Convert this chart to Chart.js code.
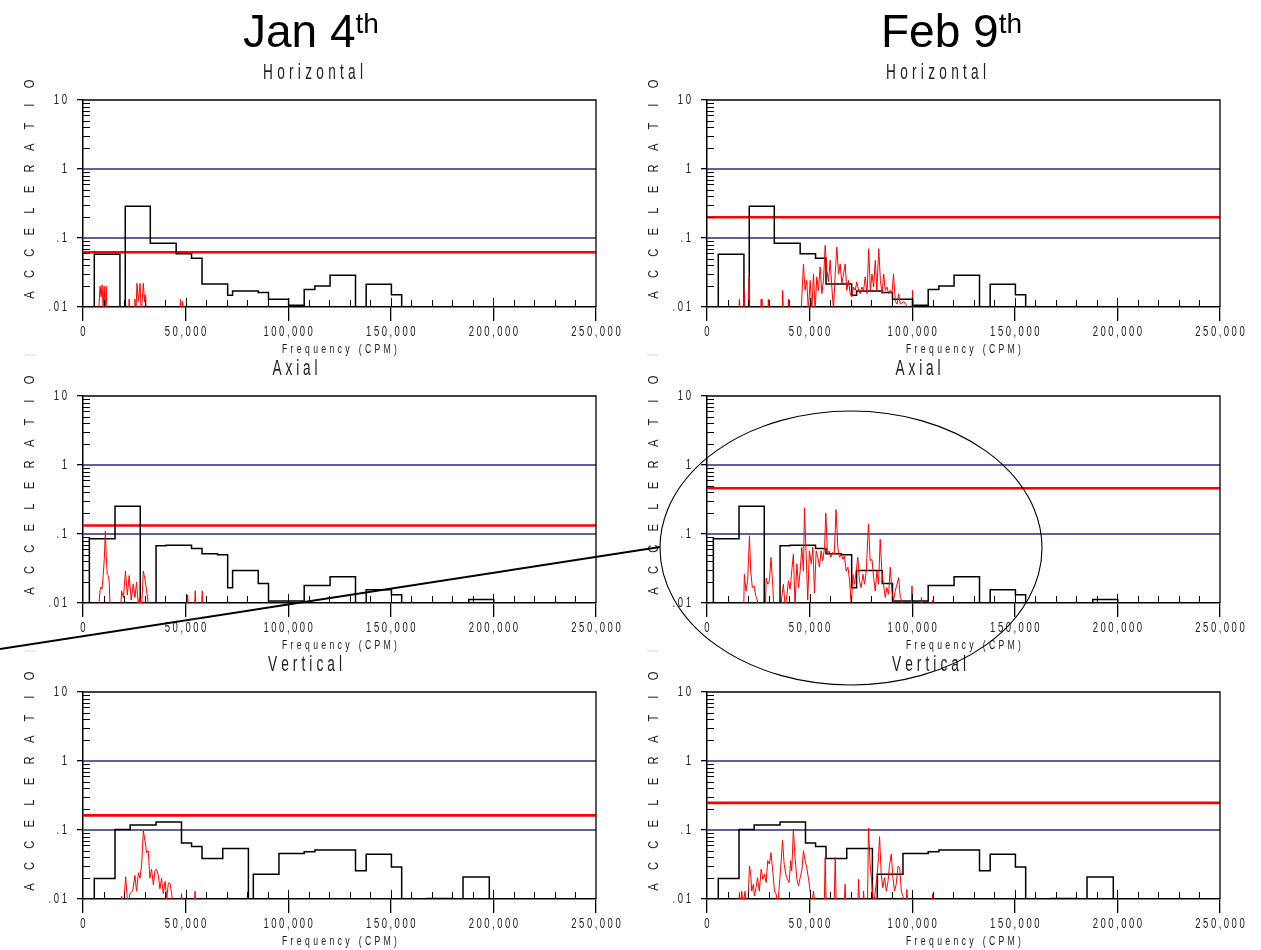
<!DOCTYPE html>
<html>
<head>
<meta charset="utf-8">
<script src="https://cdn.jsdelivr.net/npm/chart.js@4.4.1/dist/chart.umd.min.js"></script>
<style>
  html, body { margin: 0; padding: 0; background: #fff; }
  #page { position: relative; width: 1261px; height: 950px; overflow: hidden; }
  .panel { position: absolute; }
  #overlay { position: absolute; left: 0; top: 0; pointer-events: none; }
</style>
</head>
<body>
<div id="page">
  <canvas id="janH" class="panel" width="636" height="296" style="left:0;top:60px"></canvas>
  <canvas id="febH" class="panel" width="636" height="296" style="left:624px;top:60px"></canvas>
  <canvas id="janA" class="panel" width="636" height="296" style="left:0;top:356px"></canvas>
  <canvas id="febA" class="panel" width="636" height="296" style="left:624px;top:356px"></canvas>
  <canvas id="janV" class="panel" width="636" height="296" style="left:0;top:652px"></canvas>
  <canvas id="febV" class="panel" width="636" height="296" style="left:624px;top:652px"></canvas>
  <svg id="overlay" width="1261" height="950">
    <text x="243" y="47" font-family="Liberation Sans, Arial, sans-serif" font-size="46" fill="#000">Jan 4<tspan font-size="28" dy="-14">th</tspan></text>
    <text x="881" y="47" font-family="Liberation Sans, Arial, sans-serif" font-size="46" fill="#000">Feb 9<tspan font-size="28" dy="-14">th</tspan></text>
    <ellipse cx="851" cy="548" rx="191" ry="137" fill="none" stroke="#000" stroke-width="1.1"/>
    <line x1="0" y1="649" x2="660" y2="547" stroke="#000" stroke-width="2"/>
    <g stroke="#e4e4e4" stroke-width="1.5">
      <line x1="25" y1="355" x2="36" y2="355"/>
      <line x1="647" y1="355" x2="658" y2="355"/>
      <line x1="25" y1="651" x2="36" y2="651"/>
      <line x1="647" y1="651" x2="658" y2="651"/>
    </g>
  </svg>
</div>
<script>
// axis ticks
const xTicks = [0, 50000, 100000, 150000, 200000, 250000];
const yTicks = [0.01, 0.1, 1, 10];
const alarmLevels = [1, 0.1];

// overall levels (Horizontal, Axial, Vertical)
const overallJan = [0.062, 0.133, 0.163];
const overallFeb = [0.20, 0.46, 0.247];

// band envelopes (same on both dates)
const hEnvFreq = [5500, 5500, 18000, 20600, 32800, 45400, 52900, 58000, 70500, 72900, 85400, 90400, 100200, 107800, 113000, 120400, 132800, 138000, 150300, 155300];
const hEnvAmp = [0.005, 0.058, 0.005, 0.288, 0.084, 0.059, 0.051, 0.0215, 0.0148, 0.0171, 0.0162, 0.0129, 0.0106, 0.018, 0.0201, 0.0288, 0.005, 0.0213, 0.0151, 0.005];
const aEnvFreq = [3100, 3100, 15600, 27900, 35600, 40400, 52900, 58000, 65500, 70500, 72900, 85400, 90400, 107800, 120400, 132800, 138000, 150300, 155300, 188000, 200200];
const aEnvAmp = [0.005, 0.0856, 0.252, 0.005, 0.0676, 0.0689, 0.0617, 0.0517, 0.050, 0.0167, 0.0295, 0.0191, 0.0107, 0.018, 0.0241, 0.005, 0.0156, 0.0132, 0.005, 0.0112, 0.005];
const vEnvFreq = [5500, 5500, 15600, 23000, 35600, 48000, 52900, 58000, 68100, 80600, 83000, 95500, 107800, 113000, 132800, 138000, 150300, 155300, 167800, 180300, 185200, 198000];
const vEnvAmp = [0.005, 0.0198, 0.102, 0.118, 0.131, 0.0647, 0.0578, 0.0386, 0.054, 0.005, 0.0229, 0.0457, 0.0483, 0.0512, 0.0256, 0.0447, 0.0292, 0.005, 0.0102, 0.005, 0.0209, 0.005];

// spectra, Jan 4th
const janHFreq = [0, 7600, 8300, 8800, 9300, 9800, 10300, 10800, 11300, 11800, 22000, 22500, 23000, 25000, 25300, 25800, 26300, 27000, 27800, 28400, 29400, 30000, 30500, 31000, 47000, 47500, 48000, 48500, 49500, 50500, 51000, 250000];
const janHAmp = [0.005, 0.008, 0.02, 0.014, 0.021, 0.01, 0.02, 0.009, 0.02, 0.006, 0.006, 0.013, 0.006, 0.006, 0.013, 0.008, 0.022, 0.012, 0.022, 0.008, 0.022, 0.012, 0.015, 0.006, 0.006, 0.013, 0.008, 0.012, 0.007, 0.011, 0.006, 0.005];
const janAFreq = [0, 7500, 8300, 8800, 9300, 9900, 10400, 10900, 11300, 11800, 12300, 12800, 13300, 18300, 18800, 19700, 20700, 21600, 22500, 23500, 24500, 25300, 26100, 26900, 27700, 28500, 29400, 30200, 31000, 31800, 32300, 50500, 51000, 51500, 54200, 54700, 55200, 57600, 58100, 58600, 250000];
const janAAmp = [0.005, 0.008, 0.015, 0.017, 0.016, 0.026, 0.045, 0.11, 0.05, 0.026, 0.025, 0.02, 0.006, 0.007, 0.015, 0.012, 0.029, 0.013, 0.025, 0.011, 0.019, 0.012, 0.02, 0.01, 0.012, 0.008, 0.029, 0.022, 0.015, 0.01, 0.007, 0.007, 0.013, 0.007, 0.007, 0.015, 0.007, 0.007, 0.015, 0.007, 0.005];
const janVFreq = [0, 18300, 18800, 19800, 20800, 21800, 22900, 24200, 25300, 26100, 27000, 27800, 28600, 29400, 30200, 31000, 31800, 32600, 33400, 34300, 35100, 35900, 36700, 37500, 38300, 39100, 40000, 40800, 41600, 42400, 43200, 44000, 47500, 48000, 48500, 54100, 54600, 55100, 250000];
const janVAmp = [0.005, 0.007, 0.011, 0.008, 0.021, 0.008, 0.012, 0.013, 0.022, 0.013, 0.024, 0.02, 0.032, 0.098, 0.07, 0.047, 0.05, 0.02, 0.027, 0.016, 0.026, 0.027, 0.022, 0.014, 0.02, 0.012, 0.018, 0.01, 0.017, 0.017, 0.012, 0.007, 0.007, 0.012, 0.007, 0.007, 0.013, 0.007, 0.005];

// spectra, Feb 9th
const febHFreq = [0, 15300, 15800, 16300, 17600, 18100, 18600, 19000, 20000, 20500, 21000, 26000, 26400, 26800, 29500, 29900, 30300, 36500, 36900, 37400, 39300, 39700, 40100, 45800, 46200, 47000, 47800, 48600, 49400, 50300, 51100, 51900, 52700, 53500, 54300, 55150, 55960, 56770, 57590, 58400, 59200, 60020, 60830, 61650, 62460, 63270, 64090, 64900, 65710, 66530, 67340, 68150, 68970, 69780, 70600, 71400, 72200, 73000, 73900, 74700, 75500, 76300, 77100, 78000, 78800, 79600, 80400, 81200, 82000, 82800, 83700, 84500, 85300, 86100, 86900, 87700, 88500, 89300, 90100, 90900, 91800, 92600, 93400, 94200, 95800, 99100, 99700, 100200, 100700, 250000];
const febHAmp = [0.005, 0.006, 0.013, 0.006, 0.006, 0.0174, 0.008, 0.006, 0.007, 0.028, 0.006, 0.006, 0.013, 0.006, 0.006, 0.013, 0.006, 0.006, 0.0174, 0.006, 0.006, 0.013, 0.006, 0.006, 0.014, 0.0416, 0.0174, 0.0243, 0.009, 0.0243, 0.009, 0.03, 0.009, 0.0273, 0.0174, 0.038, 0.0156, 0.0243, 0.078, 0.034, 0.023, 0.0475, 0.0195, 0.009, 0.03, 0.074, 0.03, 0.042, 0.0218, 0.03, 0.042, 0.0174, 0.0243, 0.0156, 0.014, 0.0195, 0.0174, 0.023, 0.0174, 0.0156, 0.0195, 0.0174, 0.0273, 0.0156, 0.07, 0.0174, 0.03, 0.0195, 0.0475, 0.0174, 0.07, 0.0243, 0.0156, 0.03, 0.0174, 0.0195, 0.0156, 0.0174, 0.0156, 0.03, 0.012, 0.011, 0.0156, 0.011, 0.012, 0.009, 0.006, 0.0174, 0.006, 0.005];
const febAFreq = [0, 17800, 18200, 19000, 19800, 20700, 21300, 22100, 22900, 23700, 24600, 25000, 28400, 28800, 29600, 30400, 31200, 32100, 32900, 35900, 36400, 37200, 38100, 38900, 39700, 40500, 41300, 42100, 42900, 43800, 44600, 45400, 46200, 47000, 47500, 48300, 49100, 49900, 50800, 51600, 52400, 53200, 54000, 54800, 55600, 56400, 57300, 57900, 58700, 59500, 60300, 61200, 62000, 62900, 63800, 64600, 65400, 66200, 67000, 67800, 68700, 69500, 70300, 71100, 71900, 72700, 73500, 74300, 75100, 76000, 76800, 77600, 78700, 79500, 80400, 81200, 82000, 82800, 83600, 84400, 85200, 86000, 86900, 87700, 88500, 89300, 90100, 90900, 91700, 92600, 93400, 94200, 95000, 95800, 99400, 99900, 100400, 104000, 104500, 105000, 109500, 110000, 110500, 250000];
const febAAmp = [0.005, 0.006, 0.026, 0.0149, 0.021, 0.094, 0.029, 0.0167, 0.0177, 0.013, 0.0107, 0.006, 0.006, 0.023, 0.0187, 0.021, 0.0457, 0.0167, 0.006, 0.006, 0.012, 0.0187, 0.009, 0.0126, 0.021, 0.0158, 0.029, 0.051, 0.009, 0.037, 0.0167, 0.029, 0.064, 0.029, 0.239, 0.051, 0.011, 0.057, 0.037, 0.064, 0.014, 0.057, 0.046, 0.033, 0.057, 0.041, 0.064, 0.20, 0.051, 0.057, 0.046, 0.054, 0.051, 0.226, 0.061, 0.046, 0.051, 0.043, 0.048, 0.029, 0.033, 0.021, 0.009, 0.026, 0.0187, 0.029, 0.046, 0.021, 0.0167, 0.026, 0.0187, 0.029, 0.14, 0.041, 0.043, 0.0234, 0.0149, 0.029, 0.0187, 0.084, 0.029, 0.0187, 0.012, 0.0167, 0.0134, 0.033, 0.0149, 0.0107, 0.0149, 0.0187, 0.0234, 0.012, 0.0107, 0.007, 0.007, 0.0177, 0.007, 0.007, 0.012, 0.007, 0.007, 0.011, 0.007, 0.005];
const febVFreq = [0, 15300, 15800, 16400, 16900, 17700, 18500, 19400, 20000, 20700, 21300, 21800, 22600, 23100, 23900, 24600, 25500, 26400, 27200, 28000, 28800, 29600, 30400, 31200, 32100, 32900, 33700, 34500, 35300, 36100, 36800, 37600, 38400, 39200, 40000, 40800, 41300, 42100, 42900, 43800, 44600, 45400, 46200, 47000, 47800, 48600, 49400, 50300, 51100, 51900, 52700, 53500, 57100, 57600, 58100, 61900, 62500, 63000, 66800, 67300, 67800, 73400, 73900, 74400, 75900, 76300, 76800, 78200, 78700, 79500, 80400, 81200, 82800, 83600, 84100, 84900, 85700, 86500, 87400, 88200, 89000, 89800, 90600, 91400, 92200, 93100, 93900, 94700, 95500, 96900, 97400, 97900, 109500, 110000, 110500, 250000];
const febVAmp = [0.005, 0.006, 0.0124, 0.007, 0.013, 0.008, 0.013, 0.008, 0.009, 0.03, 0.0229, 0.013, 0.0163, 0.011, 0.0146, 0.0204, 0.013, 0.027, 0.0193, 0.0229, 0.0173, 0.036, 0.032, 0.047, 0.024, 0.013, 0.0117, 0.008, 0.0163, 0.034, 0.071, 0.032, 0.0229, 0.0193, 0.0173, 0.036, 0.0256, 0.103, 0.04, 0.0193, 0.0155, 0.0204, 0.0256, 0.05, 0.036, 0.0286, 0.0204, 0.013, 0.008, 0.013, 0.008, 0.007, 0.007, 0.04, 0.007, 0.007, 0.04, 0.007, 0.007, 0.0163, 0.007, 0.007, 0.0193, 0.007, 0.007, 0.013, 0.007, 0.007, 0.107, 0.032, 0.0163, 0.008, 0.0204, 0.04, 0.08, 0.0229, 0.0146, 0.0204, 0.013, 0.018, 0.032, 0.045, 0.0204, 0.013, 0.0163, 0.03, 0.0286, 0.013, 0.011, 0.007, 0.0138, 0.007, 0.007, 0.012, 0.007, 0.005];

const FONT = '"Liberation Sans", Arial, sans-serif';
const BLUE = 'rgb(40, 40, 130)';
const RED = '#ff0000';
const TEXT = '#222';

function pts(freq, amp) {
    return freq.map((f, i) => ({ x: f, y: amp[i] }));
}

function fmtX(v) {
    return v.toLocaleString('en-US');
}

function fmtY(v) {
    return v >= 1 ? String(v) : String(v).slice(1);
}

// draw a string letter by letter, squeezed horizontally, with either a fixed gap or spread to a width
function drawLetters(ctx, text, x, y, o) {
    const chars = text.split('');
    const w = chars.map(c => ctx.measureText(c).width * o.squeeze);
    const sum = w.reduce((a, b) => a + b, 0);
    const gap = o.width ? (o.width - sum) / (chars.length - 1) : o.gap;
    const total = sum + gap * (chars.length - 1);
    let cx = o.align === 'right' ? x - total : (o.align === 'left' ? x : x - total / 2);
    ctx.textAlign = 'center';
    ctx.textBaseline = 'middle';
    chars.forEach((c, i) => {
        ctx.save();
        ctx.translate(cx + w[i] / 2, y);
        ctx.scale(o.squeeze, 1);
        ctx.fillText(c, 0, 0);
        ctx.restore();
        cx += w[i] + gap;
    });
}

const panelDecor = {
    id: 'panelDecor',
    afterDatasetsDraw(chart, args, opts) {
        const { ctx, chartArea: a } = chart;
        const x = chart.scales.x;
        const y = chart.scales.y;
        ctx.save();

        // top and right frame
        ctx.strokeStyle = '#000';
        ctx.lineWidth = 1.3;
        ctx.beginPath();
        ctx.moveTo(a.left, a.top);
        ctx.lineTo(a.right, a.top);
        ctx.lineTo(a.right, a.bottom);
        ctx.stroke();

        // inside minor ticks
        ctx.lineWidth = 1;
        ctx.beginPath();
        [0.01, 0.1, 1].forEach(d => {
            for (let k = 2; k < 10; k++) {
                const py = Math.round(y.getPixelForValue(k * d)) + 0.5;
                ctx.moveTo(a.left, py);
                ctx.lineTo(a.left + 7, py);
            }
        });
        for (let f = 10000; f < 250000; f += 10000) {
            const px = Math.round(x.getPixelForValue(f)) + 0.5;
            ctx.moveTo(px, a.bottom);
            ctx.lineTo(px, a.bottom - (f % 50000 === 0 ? 9 : 7));
        }
        ctx.stroke();

        ctx.fillStyle = TEXT;

        // tick labels from the scales
        ctx.font = '14px ' + FONT;
        x.ticks.forEach(t => {
            drawLetters(ctx, fmtX(t.value), x.getPixelForValue(t.value), a.bottom + 25, { gap: 2.5, squeeze: 0.68, align: 'center' });
        });
        y.ticks.forEach(t => {
            drawLetters(ctx, fmtY(t.value), a.left - 16, y.getPixelForValue(t.value), { gap: 2.6, squeeze: 0.68, align: 'right' });
        });

        // axis title
        ctx.font = '12px ' + FONT;
        drawLetters(ctx, 'Frequency (CPM)', (a.left + a.right) / 2, a.bottom + 43, { width: 115, squeeze: 0.72, align: 'center' });

        // panel title
        ctx.font = '22px ' + FONT;
        drawLetters(ctx, opts.title, opts.titleX, 13, { width: opts.titleW, squeeze: 0.62, align: 'center' });

        // vertical axis label
        ctx.font = '14px ' + FONT;
        ctx.textAlign = 'center';
        ctx.textBaseline = 'middle';
        const label = 'ACCELERATIO';
        for (let i = 0; i < label.length; i++) {
            ctx.save();
            ctx.translate(30, 235 - i * 21.1);
            ctx.rotate(-Math.PI / 2);
            ctx.scale(0.8, 1);
            ctx.fillText(label[i], 0, 0);
            ctx.restore();
        }
        ctx.restore();
    }
};

function hLine(level, color, width, order) {
    return {
        data: [{ x: 0, y: level }, { x: 250000, y: level }],
        borderColor: color, borderWidth: width, order: order
    };
}

function makePanel(id, title, titleX, titleW, specFreq, specAmp, envFreq, envAmp, overall) {
    const datasets = [
        { data: pts(specFreq, specAmp), borderColor: RED, borderWidth: 1, order: 1 },
        { data: pts(envFreq, envAmp), borderColor: '#000', borderWidth: 1.5, stepped: 'before', order: 2 },
        hLine(overall, RED, 2.6, 3)
    ];
    alarmLevels.forEach(v => datasets.push(hLine(v, BLUE, 1.4, 4)));

    return new Chart(document.getElementById(id), {
        type: 'line',
        data: { datasets: datasets },
        options: {
            responsive: false,
            animation: false,
            events: [],
            layout: { padding: { top: 40, right: 40, left: 0, bottom: 0 } },
            elements: { point: { radius: 0 }, line: { tension: 0 } },
            plugins: {
                legend: { display: false },
                title: { display: false },
                tooltip: { enabled: false },
                panelDecor: { title: title, titleX: titleX, titleW: titleW }
            },
            scales: {
                x: {
                    type: 'linear',
                    min: 0,
                    max: 250000,
                    afterFit: s => { s.height = 49; s.paddingLeft = 0; s.paddingRight = 0; },
                    afterBuildTicks: s => { s.ticks = xTicks.map(v => ({ value: v })); },
                    grid: { display: true, drawOnChartArea: false, drawTicks: true, tickLength: 14, color: '#000', tickColor: '#000', lineWidth: 1.3 },
                    border: { display: true, color: '#000', width: 1.5 },
                    ticks: { display: false }
                },
                y: {
                    type: 'logarithmic',
                    min: 0.01,
                    max: 10,
                    afterFit: s => { s.width = 83; },
                    afterBuildTicks: s => { s.ticks = yTicks.map(v => ({ value: v })); },
                    grid: { display: true, drawOnChartArea: false, drawTicks: true, tickLength: 6, color: '#000', tickColor: '#000', lineWidth: 1.3 },
                    border: { display: true, color: '#000', width: 1.5 },
                    ticks: { display: false }
                }
            }
        },
        plugins: [panelDecor]
    });
}

makePanel('janH', 'Horizontal', 313, 100, janHFreq, janHAmp, hEnvFreq, hEnvAmp, overallJan[0]);
makePanel('febH', 'Horizontal', 312, 100, febHFreq, febHAmp, hEnvFreq, hEnvAmp, overallFeb[0]);
makePanel('janA', 'Axial', 295, 45, janAFreq, janAAmp, aEnvFreq, aEnvAmp, overallJan[1]);
makePanel('febA', 'Axial', 294, 45, febAFreq, febAAmp, aEnvFreq, aEnvAmp, overallFeb[1]);
makePanel('janV', 'Vertical', 305, 74, janVFreq, janVAmp, vEnvFreq, vEnvAmp, overallJan[2]);
makePanel('febV', 'Vertical', 305, 74, febVFreq, febVAmp, vEnvFreq, vEnvAmp, overallFeb[2]);
</script>
</body>
</html>
